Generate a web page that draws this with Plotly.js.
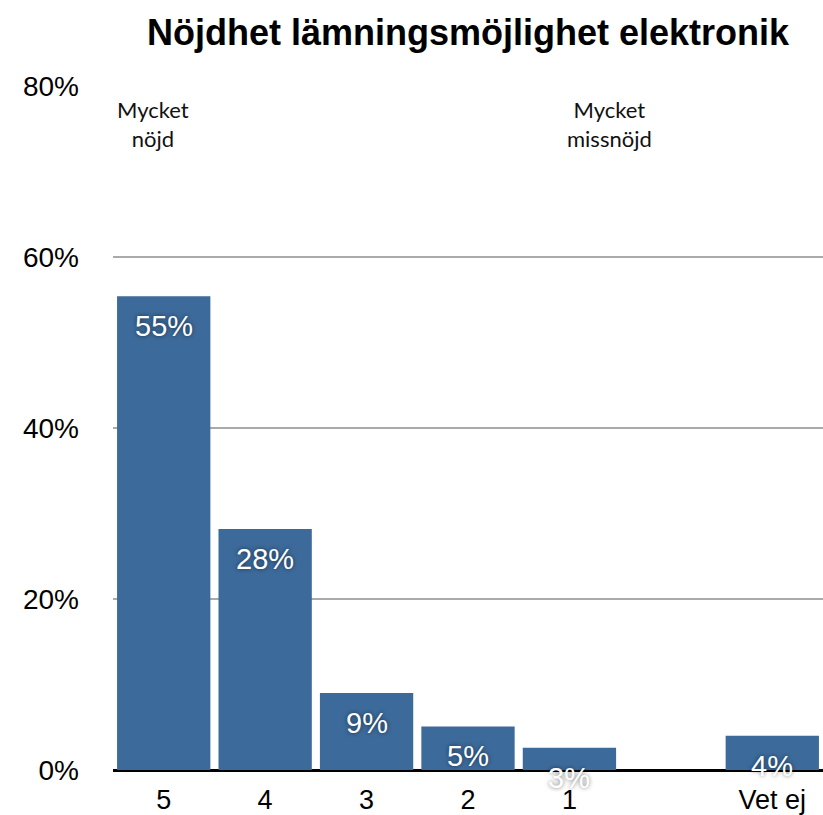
<!DOCTYPE html>
<html>
<head>
<meta charset="utf-8">
<script src="https://cdn.plot.ly/plotly-3.0.1.min.js"></script>
<style>html,body{margin:0;padding:0;background:#fff;}#chart{width:823px;height:815px;}</style>
</head>
<body>
<div id="chart"></div>
<script>
const categories = ['5', '4', '3', '2', '1', ' ', 'Vet ej'];
const values = [55.4, 28.2, 9.0, 5.1, 2.6, null, 4.0];
const valueLabels = ['55%', '28%', '9%', '5%', '3%', '', '4%'];
const yTickValues = [0, 20, 40, 60, 80];
const yTickLabels = ['0%', '20%', '40%', '60%', '80%'];
const titleText = 'Nöjdhet lämningsmöjlighet elektronik';
const endLabels = ['Mycket<br>nöjd', 'Mycket<br>missnöjd'];

const barColor = '#3c6a9a';
const trace = {
  type: 'bar',
  x: categories,
  y: values,
  marker: {color: barColor, line: {width: 0}},
  hoverinfo: 'none'
};

const annotations = [];
categories.forEach((c, i) => {
  if (values[i] == null || !valueLabels[i]) return;
  annotations.push({
    x: i, y: values[i], xref: 'x', yref: 'y',
    text: valueLabels[i], showarrow: false,
    yshift: -30, yanchor: 'middle',
    font: {family: 'Liberation Sans, Arial, sans-serif', size: 29, color: '#ffffff', shadow: '0px 0px 4px rgba(0,0,0,0.55)'}
  });
});
annotations.push({
  xref: 'paper', yref: 'paper', x: 0.0563, y: 0.988, xanchor: 'center', yanchor: 'top',
  text: endLabels[0], showarrow: false, align: 'center',
  font: {family: 'Lato, Open Sans, sans-serif', size: 22, color: '#111'}
});
annotations.push({
  xref: 'paper', yref: 'paper', x: 0.6986, y: 0.988, xanchor: 'center', yanchor: 'top',
  text: endLabels[1], showarrow: false, align: 'center',
  font: {family: 'Lato, Open Sans, sans-serif', size: 22, color: '#111'}
});

const layout = {
  width: 823, height: 815,
  margin: {l: 113, r: 0, t: 86, b: 45},
  paper_bgcolor: '#ffffff', plot_bgcolor: '#ffffff',
  showlegend: false,
  bargap: 0.08,
  title: {
    text: '<b>' + titleText + '</b>',
    x: 0.5, xref: 'paper', xanchor: 'center',
    y: 1 - 32/815, yref: 'container', yanchor: 'middle',
    font: {family: 'Liberation Sans, Arial, sans-serif', size: 36, color: '#000'}
  },
  xaxis: {
    type: 'category',
    range: [-0.5, 6.5],
    showgrid: false,
    showline: false,
    zeroline: false,
    ticks: '',
    ticklabelstandoff: 11,
    tickfont: {family: 'Liberation Sans, Arial, sans-serif', size: 27, color: '#000'},
    fixedrange: true
  },
  yaxis: {
    range: [0, 80],
    tickvals: yTickValues,
    ticktext: yTickLabels,
    showgrid: true,
    gridcolor: '#aaaaaa',
    gridwidth: 2,
    zeroline: true,
    zerolinecolor: '#000000',
    zerolinewidth: 3,
    showline: false,
    ticks: '',
    ticklabelstandoff: 33,
    tickfont: {family: 'Liberation Sans, Arial, sans-serif', size: 28, color: '#000'},
    fixedrange: true
  },
  annotations: annotations
};

Plotly.newPlot('chart', [trace], layout, {displayModeBar: false, staticPlot: true});
</script>
</body>
</html>
